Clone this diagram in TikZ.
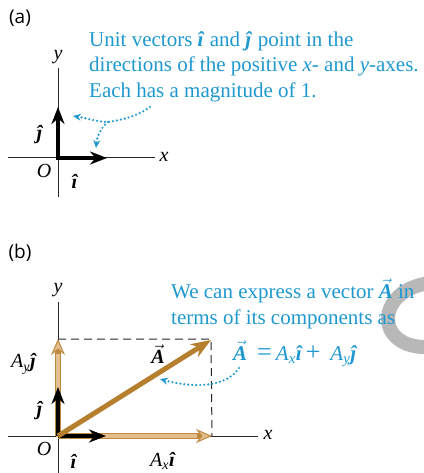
\documentclass[tikz,border=0pt]{standalone}
\usepackage{fontspec}
\setmainfont{Liberation Serif}
\newfontfamily\panelfont{Open Sans}
\usepackage{xcolor}
\usetikzlibrary{arrows.meta}

\definecolor{notecyan}{RGB}{30,152,208}
\definecolor{vecbrown}{RGB}{181,127,46}
\definecolor{comptan}{RGB}{228,190,140}
\definecolor{compline}{RGB}{190,138,66}

\newcommand{\ihat}{\textbf{\textit{\^{\i}}}}
\newcommand{\jhat}{\textbf{\textit{\^{\j}}}}
\newcommand{\vecA}{\ensuremath{\vec{\mbox{\bfseries\itshape A}}}}
\newcommand{\eqsym}[1]{{\fontsize{26}{25.5}\selectfont #1}}

\begin{document}
\begin{tikzpicture}[x=1pt, y=-1pt]
        % Styles for axes, vectors and the blue notes
        \tikzstyle{axis} = [line width=1pt, black!85]
        \tikzstyle{unitvec} = [line width=4.5pt, -{Stealth[length=17pt, width=13pt]}]
        \tikzstyle{mainvec} = [line width=5pt, vecbrown, -{Stealth[length=20pt, width=15pt]}]
        \tikzstyle{compedge} = [line width=6pt, compline, -{Stealth[length=16pt, width=14pt, fill=comptan, line width=1pt]}]
        \tikzstyle{compfill} = [line width=4pt, comptan, shorten >=15pt]
        \tikzstyle{pointer} = [notecyan, line width=2.4pt, line cap=round, dash pattern=on 0pt off 4pt, -{Stealth[length=8pt, width=7pt]}]
        \tikzstyle{lbl} = [inner sep=0pt, font=\fontsize{20}{22}\selectfont]
        \tikzstyle{note} = [inner sep=0pt, notecyan, align=left, font=\fontsize{21}{25.5}\selectfont]
        \tikzstyle{panel} = [inner sep=0pt, font=\panelfont\fontsize{19}{21}\selectfont]

        \useasboundingbox (0,0) rectangle (423,473);

        % Watermark arc behind the text
        \draw[line width=14pt, black!35, opacity=0.8] (430,283) .. controls (374,290) and (374,350) .. (430,347);

        % ---------------- Panel (a) ----------------
        \node[panel] (tagA) at (20,18) {(a)};
        \coordinate (Oa) at (58,158);
        \coordinate (xendA) at (155,158);
        \coordinate (xstartA) at (8,158);
        \coordinate (ytopA) at (58,68);
        \coordinate (ybotA) at (58,197);
        \coordinate (itipA) at (107,158);
        \coordinate (jtipA) at (58,107);

        \draw [axis] (xstartA) -- (xendA);
        \draw [axis] (ybotA) -- (ytopA);
        \draw [unitvec] (Oa) -- (itipA);
        \draw [unitvec] (Oa) -- (jtipA);
        \draw [line width=4.5pt] ([xshift=-2.25pt]Oa) -- (Oa);

        \node[lbl] (ylabA) at (58,57) {\textit{y}};
        \node[lbl] (xlabA) at (164,157) {\textit{x}};
        \node[lbl] (olabA) at (44,171) {\textit{O}};
        \node[lbl] (ilabA) at (75,181) {\ihat};
        \node[lbl] (jlabA) at (40,135) {\jhat};

        \node[note, anchor=north west] (noteA) at (89,31) {Unit vectors \ihat\ and \jhat\ point in the\\directions of the positive \textit{x}- and \textit{y}-axes.\\Each has a magnitude of 1.};

        \coordinate (ptrA) at (150,107);
        \coordinate (forkA) at (108,122);
        \draw [pointer] (ptrA) .. controls (135,118) and (115,121) .. (forkA) .. controls (98,122) and (86,118) .. (73,116);
        \draw [pointer] (forkA) .. controls (100,128) and (97,138) .. (96,148);

        % ---------------- Panel (b) ----------------
        \node[panel] (tagB) at (20,253) {(b)};
        \coordinate (Ob) at (58,436);
        \coordinate (xstartB) at (8,436);
        \coordinate (xendB) at (258,436);
        \coordinate (ytopB) at (58,302);
        \coordinate (ybotB) at (58,473);
        \coordinate (AxB) at (212,436);
        \coordinate (AyB) at (58,339);
        \coordinate (AB) at (211,340);
        \coordinate (corner) at (211,339);
        \coordinate (itipB) at (106,436);
        \coordinate (jtipB) at (58,387);

        \draw [axis] (xstartB) -- (xendB);
        \draw [axis] (ybotB) -- (ytopB);
        \draw [axis, dash pattern=on 8pt off 5pt] (AyB) -- (corner) -- (AxB);

        % components
        \draw [compedge] (Ob) -- (AxB);
        \draw [compfill] ([xshift=1pt]Ob) -- (AxB);
        \draw [compedge] (Ob) -- (AyB);
        \draw [compfill] ([yshift=-1pt]Ob) -- (AyB);

        % unit vectors and the vector A
        \draw [unitvec] (Ob) -- (itipB);
        \draw [unitvec] (Ob) -- (jtipB);
        \draw [mainvec] (Ob) -- (AB);

        \node[lbl] (ylabB) at (58,290) {\textit{y}};
        \node[lbl] (xlabB) at (268,435) {\textit{x}};
        \node[lbl] (olabB) at (44,449) {\textit{O}};
        \node[lbl] (ilabB) at (74,461) {\ihat};
        \node[lbl] (jlabB) at (40,411) {\jhat};
        \node[lbl] (aylab) at (24,364) {\textit{A}\textsubscript{\textit{y}}\jhat};
        \node[lbl] (axlab) at (163,461) {\textit{A}\textsubscript{\textit{x}}\ihat};
        \node[lbl] (alab) at (158,354) {\vecA};

        \node[note, anchor=north west] (noteB) at (171,279) {We can express a vector \vecA\ in\\terms of its components as};
        \node[note, anchor=base west] (eqB) at (233,360) {\vecA\hspace{10pt}\eqsym{=}\hspace{4pt}\textit{A}\textsubscript{\textit{x}}\ihat\hspace{3pt}\eqsym{+}\hspace{10pt}\textit{A}\textsubscript{\textit{y}}\jhat};

        \coordinate (ptrB) at (239,368);
        \draw [pointer] (ptrB) .. controls (226,388) and (192,388) .. (160,379);
\end{tikzpicture}
\end{document}
